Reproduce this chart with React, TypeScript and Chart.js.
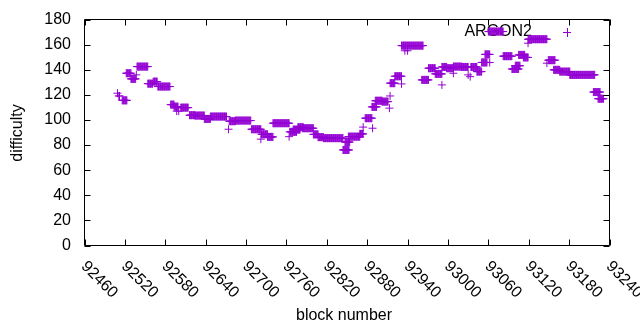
import React, { useEffect, useRef } from "react";
import { Chart, registerables } from "chart.js";

Chart.register(...registerables);

// Runs of consecutive blocks that share the same difficulty (start block, end block, value)
const runStart = [
  92509, 92511, 92516, 92522, 92529, 92537, 92538, 92554, 92562, 92569,
  92588, 92593, 92597, 92600, 92603, 92616, 92624, 92638, 92647, 92674,
  92675, 92684, 92708, 92722, 92723, 92732, 92740, 92764, 92765, 92770,
  92777, 92784, 92800, 92807, 92815, 92844, 92847, 92852, 92869, 92874,
  92877, 92888, 92887, 92892, 92902, 92914, 92913, 92914, 92921, 92931,
  92931, 92936, 92940, 92961, 92971, 92981, 92991, 92991, 92998, 93008,
  93008, 93020, 93030, 93033, 93034, 93043, 93050, 93055, 93062, 93060,
  93082, 93095, 93100, 93105, 93112, 93119, 93119, 93147, 93149, 93157,
  93166, 93181, 93216, 93223,
];
const runEnd = [
  92509, 92512, 92523, 92529, 92536, 92537, 92554, 92561, 92568, 92587,
  92593, 92599, 92597, 92600, 92614, 92624, 92638, 92647, 92671, 92674,
  92684, 92707, 92722, 92722, 92732, 92740, 92764, 92764, 92775, 92780,
  92785, 92800, 92807, 92815, 92844, 92853, 92854, 92869, 92874, 92874,
  92887, 92888, 92894, 92902, 92911, 92914, 92913, 92921, 92931, 92931,
  92963, 92936, 92940, 92971, 92981, 92991, 92991, 92998, 93008, 93008,
  93020, 93030, 93030, 93033, 93043, 93050, 93058, 93062, 93062, 93082,
  93095, 93105, 93107, 93114, 93119, 93119, 93147, 93147, 93159, 93166,
  93181, 93218, 93226, 93231,
];
const runValue = [
  121.3, 119.1, 115.6, 137.2, 132.7, 135.9, 142.5, 128.9, 130.5, 126.6,
  112.2, 110.6, 107.0, 107.0, 109.8, 103.8, 103.5, 100.8, 102.7, 92.6,
  99.0, 99.5, 92.6, 84.7, 88.6, 86.5, 97.4, 86.7, 90.5, 92.3,
  94.2, 93.4, 88.5, 86.3, 85.5, 76.1, 82.4, 86.7, 88.9, 94.3,
  101.4, 93.4, 110.4, 115.3, 114.6, 119.1, 109.4, 129.3, 134.8, 128.7,
  159.2, 155.1, 155.1, 131.9, 141.2, 136.7, 127.9, 142.2, 141.2, 137.2,
  142.5, 142.2, 135.9, 134.5, 142.2, 138.5, 145.8, 152.2, 145.7, 170.4,
  150.8, 140.6, 143.2, 151.8, 149.8, 161.1, 164.3, 145.2, 147.6, 139.9,
  138.5, 135.9, 122.2, 116.9,
];

const xTicks = [92460, 92520, 92580, 92640, 92700, 92760, 92820, 92880, 92940, 93000, 93060, 93120, 93180, 93240];
const yTicks = [0, 20, 40, 60, 80, 100, 120, 140, 160, 180];
const seriesName = "ARGON2";
const xTitle = "block number";
const yTitle = "difficulty";

const COLOR = "#9400d3";
const FONT = '"Liberation Sans", Arial, sans-serif';

function buildPoints() {
  const pts: { x: number; y: number }[] = [];
  for (let i = 0; i < runStart.length; i++) {
    for (let b = runStart[i]; b <= runEnd[i]; b++) {
      pts.push({ x: b, y: runValue[i] });
    }
  }
  return pts;
}

const framePlugin = {
  id: "gnuplotFrame",
  beforeDatasetsDraw(chart: any) {
    const ctx = chart.ctx;
    ctx.save();
    ctx.fillStyle = "#000";
    ctx.font = "16px " + FONT;
    ctx.textAlign = "right";
    ctx.textBaseline = "middle";
    ctx.fillText(seriesName, 532, 32);
    ctx.restore();
  },
  afterDraw(chart: any) {
    const ctx = chart.ctx;
    const a = chart.chartArea;
    const xs = chart.scales.x;
    const ys = chart.scales.y;
    ctx.save();
    ctx.strokeStyle = "#000";
    ctx.lineWidth = 1;
    ctx.beginPath();
    ctx.rect(a.left, a.top, a.right - a.left, a.bottom - a.top);
    ctx.stroke();
    const tl = 6;
    ctx.beginPath();
    for (const t of xTicks) {
      const px = Math.round(xs.getPixelForValue(t)) + 0.5;
      ctx.moveTo(px, a.bottom);
      ctx.lineTo(px, a.bottom - tl);
      ctx.moveTo(px, a.top);
      ctx.lineTo(px, a.top + tl);
    }
    for (const t of yTicks) {
      const py = Math.round(ys.getPixelForValue(t)) + 0.5;
      ctx.moveTo(a.left, py);
      ctx.lineTo(a.left + tl, py);
      ctx.moveTo(a.right, py);
      ctx.lineTo(a.right - tl, py);
    }
    ctx.stroke();

    ctx.fillStyle = "#000";
    ctx.font = "16px " + FONT;
    ctx.textAlign = "right";
    ctx.textBaseline = "middle";
    for (const t of yTicks) {
      ctx.fillText(String(t), 71, ys.getPixelForValue(t));
    }
    ctx.textAlign = "left";
    for (const t of xTicks) {
      const px = xs.getPixelForValue(t);
      ctx.save();
      ctx.translate(px - 1, 264);
      ctx.rotate(Math.PI / 4);
      ctx.fillText(String(t), 0, 0);
      ctx.restore();
    }
    ctx.textAlign = "center";
    ctx.fillText(xTitle, 344, 316);
    ctx.save();
    ctx.translate(18, 133);
    ctx.rotate(-Math.PI / 2);
    ctx.fillText(yTitle, 0, 0);
    ctx.restore();

    // key sample
    ctx.strokeStyle = COLOR;
    ctx.beginPath();
    ctx.moveTo(563, 32.5);
    ctx.lineTo(571, 32.5);
    ctx.moveTo(567.5, 28);
    ctx.lineTo(567.5, 37);
    ctx.stroke();
    ctx.restore();
  },
};

export default function App() {
  const ref = useRef<HTMLCanvasElement | null>(null);
  useEffect(() => {
    if (!ref.current) return;
    const chart = new Chart(ref.current, {
      type: "scatter",
      data: {
        datasets: [
          {
            label: seriesName,
            data: buildPoints(),
            pointStyle: "cross",
            pointRadius: 4,
            pointHoverRadius: 4,
            borderColor: COLOR,
            backgroundColor: COLOR,
            borderWidth: 1,
            showLine: false,
          },
        ],
      },
      options: {
        animation: false,
        responsive: false,
        maintainAspectRatio: false,
        events: [],
        layout: { padding: { left: 84.5, right: 30.5, top: 19.5, bottom: 84.5 } },
        plugins: { legend: { display: false }, tooltip: { enabled: false } },
        scales: {
          x: { type: "linear", display: false, min: 92460, max: 93240 },
          y: { type: "linear", display: false, min: 0, max: 180 },
        },
      },
      plugins: [framePlugin],
    });
    return () => chart.destroy();
  }, []);
  return (
    <div style={{ position: "absolute", left: 0, top: 0, width: 640, height: 330, background: "#fff" }}>
      <canvas ref={ref} width={640} height={330} style={{ display: "block" }} />
    </div>
  );
}
